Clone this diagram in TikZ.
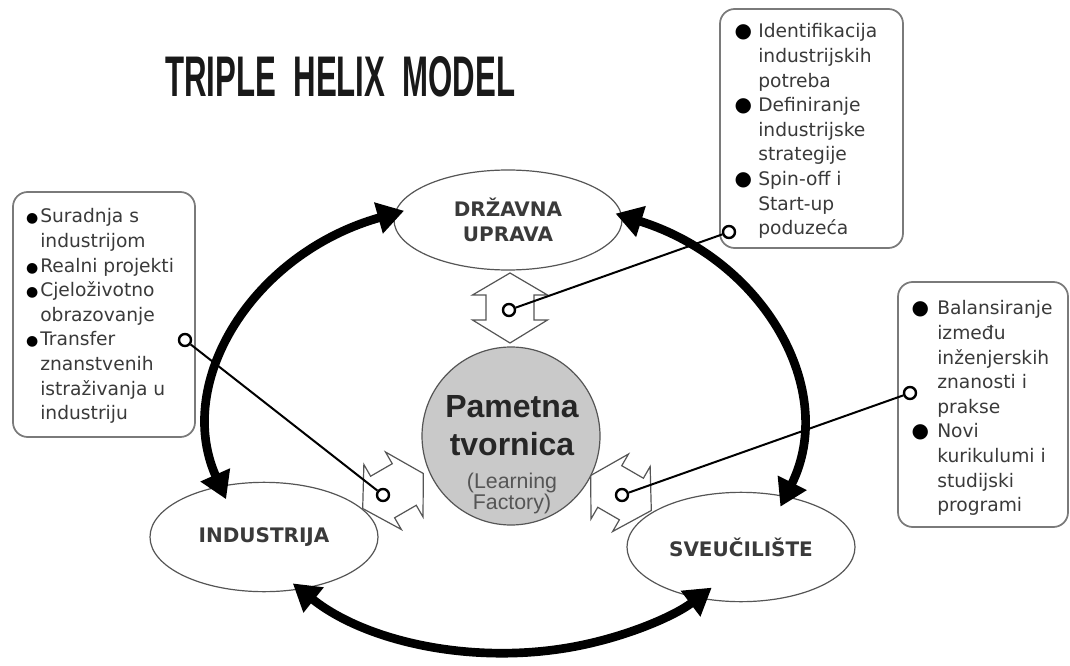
\documentclass[tikz,border=0pt]{standalone}
\usepackage{fontspec}
\usepackage{graphicx}
\setmainfont{Liberation Sans}
\newfontfamily\dejavu{DejaVu Sans}
\usetikzlibrary{arrows.meta,shapes.geometric}
\definecolor{txtgray}{HTML}{3A3A3A}
\definecolor{linegray}{HTML}{555555}
\definecolor{boxgray}{HTML}{7A7A7A}
\definecolor{circfill}{HTML}{C9C9C9}
\definecolor{lfgray}{HTML}{555555}
\newcommand{\bul}[2]{\makebox[#1]{\fontsize{#2}{#2}\selectfont\color{black}●}}
\begin{document}
\begin{tikzpicture}[x=0.75pt,y=0.75pt,
  ell/.style={draw=linegray, line width=0.9pt, ellipse, minimum width=171pt, minimum height=82pt, inner sep=0pt, align=center, text=txtgray, font=\dejavu\bfseries\fontsize{15}{18.75}\selectfont},
  infobox/.style={draw=boxgray, line width=1.3pt, rounded corners=11pt},
  infotext/.style={font=\dejavu\fontsize{14}{18.45}\selectfont, text=txtgray, inner sep=0pt, anchor=base west},
  helix/.style={line width=6.5pt, {Triangle[length=20pt,width=23pt]}-{Triangle[length=20pt,width=23pt]}},
  pointer/.style={line width=1.5pt},
  marker/.style={circle, draw=black, line width=1.8pt, fill=white, inner sep=0pt, minimum size=9pt},
  hollow/.style={draw=linegray, line width=0.9pt, line join=miter},
  dblarrow/.pic={\path[hollow] (0,35) -- (37.5,13) -- (24,13) -- (24,-12) -- (37.5,-12) -- (0,-35) -- (-37.5,-12) -- (-24,-12) -- (-24,13) -- (-37.5,13) -- cycle;}
]
\useasboundingbox (0,0) rectangle (1070,-666);
\fill[white] (0,0) rectangle (1070,-666);

% title
\node[anchor=base west, inner sep=0pt, text=black!90] (title) at (165,-97) {\resizebox{262.5pt}{30pt}{\bfseries TRIPLE\ \ HELIX\ \ MODEL}};

% ellipses
\node[ell, minimum height=75pt] (dr) at (508,-220) {DRŽAVNA\\UPRAVA};
\node[ell] (ind) at (264,-537) {INDUSTRIJA};
\node[ell] (sve) at (741,-547) {SVEUČILIŠTE};

% helix arcs
\coordinate (hc) at (505,-425);
\draw[helix] ([shift={(199:295 and 228)}]hc) arc[start angle=199, end angle=110, x radius=295, y radius=228];
\draw[helix] ([shift={(68:295 and 228)}]hc) arc[start angle=68, end angle=-21, x radius=295, y radius=228];
\draw[helix] ([shift={(224:295 and 228)}]hc) arc[start angle=224, end angle=314.5, x radius=295, y radius=228];

% hollow double arrows
\pic at (510,-308) {dblarrow};
\pic[rotate=-60] at (393,-491) {dblarrow};
\pic[rotate=60] at (621,-493) {dblarrow};

% central circle
\node[circle, draw=linegray, line width=0.9pt, fill=circfill, minimum size=133.5pt, inner sep=0pt] (pf) at (511,-436) {};
\node[anchor=base, inner sep=0pt, font=\bfseries\fontsize{24}{28}\selectfont, text=black!85] (pf1) at (512,-417) {Pametna};
\node[anchor=base, inner sep=0pt, font=\bfseries\fontsize{24}{28}\selectfont, text=black!85] (pf2) at (512,-455) {tvornica};
\node[anchor=base, inner sep=0pt, font=\fontsize{16}{19}\selectfont, text=lfgray] (pf3) at (512,-488) {(Learning};
\node[anchor=base, inner sep=0pt, font=\fontsize{16}{19}\selectfont, text=lfgray] (pf4) at (512,-509) {Factory)};

% info boxes
\node[infobox, minimum width=136.5pt, minimum height=183.75pt] (boxL) at (104,-314.5) {};
\node[infobox, minimum width=137.25pt, minimum height=179.25pt] (boxTR) at (811.5,-128.5) {};
\node[infobox, minimum width=127.5pt, minimum height=183.75pt] (boxR) at (983,-404.5) {};

\node[infotext] (tL) at (24,-223) {\begin{tabular}[t]{@{}l@{}l@{}}
\bul{12pt}{10.5} & Suradnja s\\
 & industrijom\\
\bul{12pt}{10.5} & Realni projekti\\
\bul{12pt}{10.5} & Cjeloživotno\\
 & obrazovanje\\
\bul{12pt}{10.5} & Transfer\\
 & znanstvenih\\
 & istraživanja u\\
 & industriju
\end{tabular}};

\node[infotext] (tTR) at (728,-38) {\begin{tabular}[t]{@{}l@{}l@{}}
\bul{22.5pt}{15} & Identifikacija\\
 & industrijskih\\
 & potreba\\
\bul{22.5pt}{15} & Definiranje\\
 & industrijske\\
 & strategije\\
\bul{22.5pt}{15} & Spin-off i\\
 & Start-up\\
 & poduzeća
\end{tabular}};

\node[infotext] (tR) at (903,-315) {\begin{tabular}[t]{@{}l@{}l@{}}
\bul{25.5pt}{15} & Balansiranje\\
 & između\\
 & inženjerskih\\
 & znanosti i\\
 & prakse\\
\bul{25.5pt}{15} & Novi\\
 & kurikulumi i\\
 & studijski\\
 & programi
\end{tabular}};

% pointer markers and lines
\node[marker] (mTRb) at (729,-232) {};
\node[marker] (mTa) at (509,-310) {};
\node[marker] (mLb) at (185,-340) {};
\node[marker] (mLa) at (383,-495) {};
\node[marker] (mRb) at (910,-393) {};
\node[marker] (mRa) at (622,-495) {};
\draw[pointer] (mTRb) -- (mTa);
\draw[pointer] (mLb) -- (mLa);
\draw[pointer] (mRb) -- (mRa);
\end{tikzpicture}
\end{document}
